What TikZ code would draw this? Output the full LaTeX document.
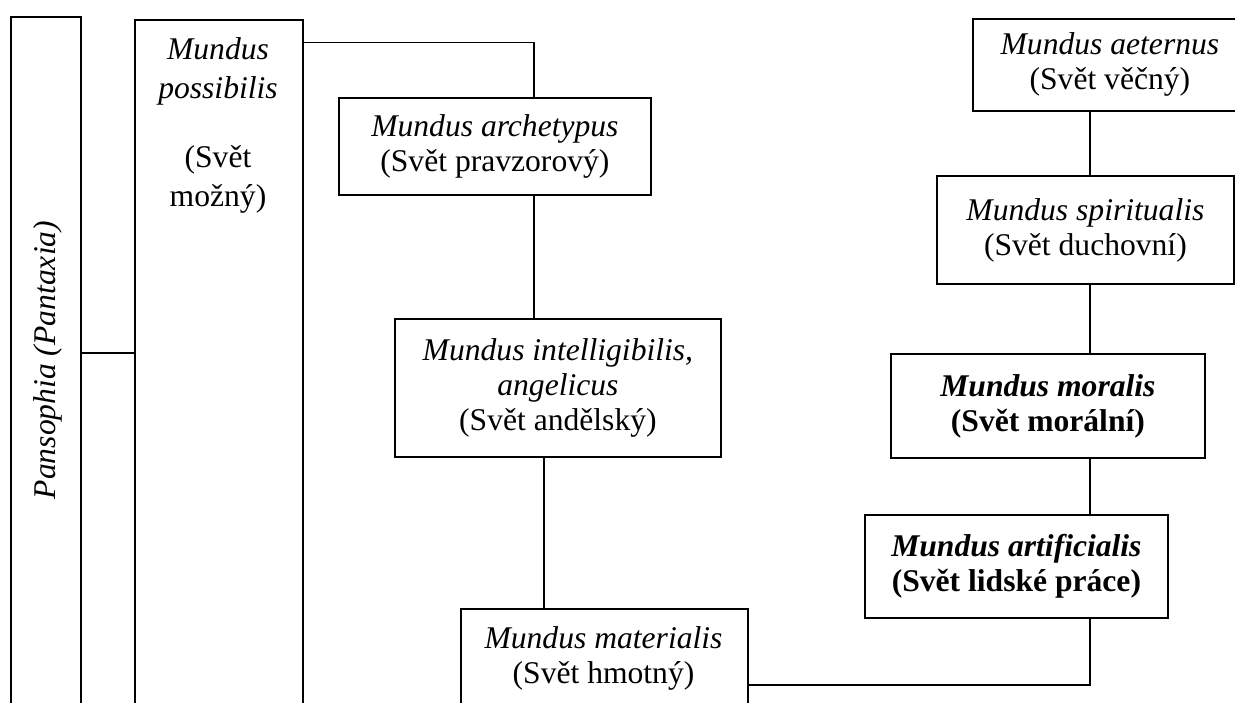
\documentclass[tikz,border=0pt]{standalone}
\usepackage{fontspec}
\setmainfont{Liberation Serif}
\begin{document}
\begin{tikzpicture}[x=0.5pt,y=-0.5pt,
  every node/.style={font=\fontsize{15.8pt}{17.5pt}\selectfont},
  box/.style={draw, line width=0.9pt, inner sep=0pt, align=center, anchor=north west},
  conn/.style={line width=0.75pt}]
\useasboundingbox (0,0) rectangle (1235,702);
\clip (0,0) rectangle (1235,702);
% boxes
\node[box, minimum width=35pt, minimum height=352pt] (pans) at (10,16) {};
\node[rotate=90, inner sep=0pt] (pans-t) at (48,360) {\textit{Pansophia (Pantaxia)}};
\node[box, minimum width=84pt, minimum height=350.5pt] (poss) at (134,19) {};
\node[anchor=north, align=center, inner sep=0pt, font=\fontsize{15.8pt}{19.5pt}\selectfont] (poss-t) at (218,37) {\textit{Mundus}\\\textit{possibilis}\\[15pt](Svět\\možný)};
\node[box, minimum width=156pt, minimum height=48.5pt] (arch) at (338,97) {\textit{Mundus archetypus}\\(Svět pravzorový)};
\node[box, minimum width=163pt, minimum height=69pt] (intel) at (394,318) {\textit{Mundus intelligibilis,}\\\textit{angelicus}\\(Svět andělský)};
\node[box, minimum width=143.5pt, minimum height=56pt] (mat) at (460,608) {};
\node[anchor=north, align=center, inner sep=0pt] (mat-t) at (603.5,626) {\textit{Mundus materialis}\\(Svět hmotný)};
\node[box, minimum width=151.5pt, minimum height=51.5pt] (art) at (864,514) {\textbf{\textit{Mundus artificialis}}\\\textbf{(Svět lidské práce)}};
\node[box, minimum width=157pt, minimum height=52pt] (mor) at (890,353) {\textbf{\textit{Mundus moralis}}\\\textbf{(Svět morální)}};
\node[box, minimum width=148.5pt, minimum height=54pt] (spir) at (936,175) {\textit{Mundus spiritualis}\\(Svět duchovní)};
\node[box, minimum width=137pt, minimum height=46pt] (aet) at (972,18) {\textit{Mundus aeternus}\\(Svět věčný)};
% connectors
\coordinate (c0) at (100,353);
\draw[conn] (pans.east |- c0) -- (poss.west |- c0);
\coordinate (b1) at (534,42.7);
\draw[conn] (poss.east |- b1) -- (b1) -- (b1 |- arch.north);
\draw[conn] (b1 |- arch.south) -- (b1 |- intel.north);
\coordinate (b2) at (544,500);
\draw[conn] (b2 |- intel.south) -- (b2 |- mat.north);
\coordinate (b3) at (1090,685);
\draw[conn] (mat.east |- b3) -- (b3) -- (b3 |- art.south);
\draw[conn] (b3 |- mor.south) -- (b3 |- art.north);
\draw[conn] (b3 |- spir.south) -- (b3 |- mor.north);
\draw[conn] (b3 |- aet.south) -- (b3 |- spir.north);
\end{tikzpicture}
\end{document}
